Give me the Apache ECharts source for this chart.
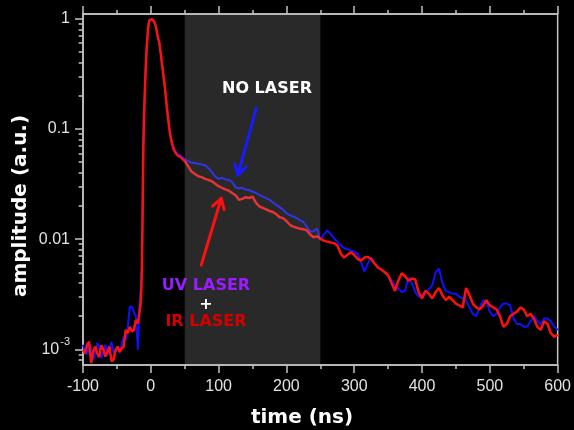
<!DOCTYPE html>
<html><head><meta charset="utf-8">
<script src="https://cdn.jsdelivr.net/npm/echarts@6/dist/echarts.min.js"></script>
<style>html,body{margin:0;padding:0;background:#000}#c{width:574px;height:430px}</style>
</head><body><div id="c"></div>
<script>
// time axis (ns)
const timeNs = [
 -100,-97,-94,-91,-88,-85,-82,-79,-76,-73,-70,-67,-64,-61,-58,-55,-52,-49,-46,-43,-40,-37,-34,-31,-28,-25,-22,-19,-17,-15,
 -14,-13,-12,-11,-10,-9,-8,-7,-6,-5,-4,-3,-2,-1,0,1,2,3,4,5,6,7,8,9,10,11,12,13,14,15,16,17,18,19,20,
 22,24,26,28,30,32,34,36,38,40,43,46,
 50,55,60,65,70,75,80,85,90,95,100,105,110,115,120,125,130,135,140,145,150,155,160,165,170,175,180,185,190,195,
 200,205,210,215,220,225,230,235,240,245,250,255,260,265,270,275,280,285,290,295,300,305,310,315,320,325,330,335,340,345,
 350,355,360,365,370,375,380,385,390,395,400,405,410,415,420,425,430,435,440,445,450,455,460,465,470,475,480,485,490,495,
 500,505,510,515,520,525,530,535,540,545,550,555,560,565,570,575,580,585,590,595,600
];
// NO LASER (blue)
const noLaser = [
 0.0011,0.00095,0.0009,0.00114,0.001,0.0008,0.0009,0.00114,0.00105,0.00083,0.00095,0.0011,0.00088,0.001,0.00117,0.00093,0.001,0.00105,0.00093,0.0011,0.0013,0.0012,0.0016,0.00244,0.00244,0.0022,0.00198,0.00099,0.00227,0.0034,
 0.004,0.006,0.02,0.07,0.13,0.2,0.3,0.42,0.55,0.68,0.82,0.91,0.97,0.995,1.0,1.0,0.99,0.98,0.96,0.94,0.91,0.87,0.83,0.76,0.7,0.66,0.63,0.58,0.52,0.47,0.41,0.37,0.33,0.29,0.265,
 0.2,0.152,0.12,0.095,0.082,0.073,0.067,0.063,0.061,0.059,0.058,0.056,
 0.053,0.051,0.0495,0.049,0.0482,0.0475,0.0468,0.044,0.0405,0.037,0.0352,0.036,0.0348,0.0345,0.033,0.0295,0.0288,0.0292,0.0282,0.0278,0.027,0.0262,0.0252,0.0243,0.0236,0.0228,0.0215,0.0205,0.0195,0.0185,
 0.0172,0.0165,0.016,0.0155,0.0148,0.0143,0.013,0.0117,0.0118,0.0125,0.0098,0.011,0.012,0.0112,0.0102,0.0095,0.0088,0.0083,0.0081,0.0079,0.0077,0.0074,0.0062,0.0051,0.006,0.0068,0.006,0.0056,0.0053,0.005,
 0.0047,0.0042,0.0038,0.0036,0.0033,0.0034,0.0045,0.004,0.0033,0.003,0.0031,0.0033,0.0035,0.0038,0.005,0.0054,0.004,0.0034,0.0033,0.0032,0.0032,0.003,0.0029,0.0028,0.0024,0.0021,0.002,0.0024,0.0028,0.0027,
 0.0022,0.002,0.0021,0.0024,0.0026,0.0026,0.0025,0.0019,0.0017,0.0017,0.0016,0.0016,0.0018,0.002,0.0018,0.0017,0.0019,0.0019,0.0018,0.0016,0.0015
];
// UV LASER + IR LASER (red)
const uvIrLaser = [
 0.00099,0.00092,0.0011,0.00117,0.00075,0.00095,0.00106,0.00092,0.00085,0.00109,0.001,0.00086,0.00095,0.00106,0.00078,0.0008,0.00098,0.00106,0.00095,0.00102,0.00106,0.0015,0.0014,0.0016,0.00145,0.0015,0.00185,0.00172,0.0021,0.0026,
 0.0035,0.006,0.02,0.07,0.13,0.2,0.3,0.42,0.55,0.68,0.82,0.91,0.97,0.995,1.0,1.0,0.99,0.98,0.96,0.94,0.91,0.87,0.83,0.76,0.7,0.66,0.63,0.58,0.52,0.47,0.41,0.37,0.33,0.29,0.265,
 0.2,0.15,0.118,0.093,0.08,0.071,0.065,0.061,0.059,0.057,0.056,0.054,
 0.051,0.046,0.041,0.039,0.0372,0.0365,0.0352,0.0345,0.0335,0.0318,0.0302,0.0292,0.0283,0.0275,0.0262,0.025,0.0228,0.0232,0.024,0.0236,0.0243,0.0214,0.0198,0.0192,0.0186,0.018,0.0176,0.0168,0.0158,0.0155,
 0.0146,0.0135,0.013,0.0127,0.0124,0.0123,0.012,0.011,0.0104,0.0106,0.0101,0.0097,0.0095,0.0093,0.0092,0.0088,0.0074,0.0068,0.0072,0.0076,0.0072,0.0066,0.0064,0.0068,0.0069,0.0066,0.006,0.0055,0.0053,0.005,
 0.0047,0.004,0.0034,0.0042,0.0049,0.0046,0.0042,0.0044,0.0043,0.0033,0.0029,0.0034,0.0032,0.0029,0.0033,0.0036,0.0031,0.0028,0.003,0.0028,0.0026,0.0025,0.0024,0.0036,0.0031,0.0026,0.0024,0.0023,0.0025,0.0028,
 0.0025,0.0024,0.0023,0.002,0.0016,0.0017,0.002,0.0021,0.0022,0.0024,0.0023,0.002,0.0021,0.0019,0.0016,0.0015,0.0018,0.0017,0.0014,0.0013,0.00135
];
const xRange = [-100, 600];
const yRange = [7.21e-4, 1.103];
const yTickValues = [0.001, 0.01, 0.1, 1];
const yTickLabels = ['10{sup|-3}', '0.01', '0.1', '1'];
const yMinorTickValues = [0.0008,0.0009,
  0.002,0.003,0.004,0.005,0.006,0.007,0.008,0.009,
  0.02,0.03,0.04,0.05,0.06,0.07,0.08,0.09,
  0.2,0.3,0.4,0.5,0.6,0.7,0.8,0.9];
const shadedBand = [50, 250];

const AX = '#c4c4c4', LBL = '#e2e2e2';
const L = Math.log10;
const chart = echarts.init(document.getElementById('c'), null, {renderer: 'canvas'});
const majorLog = yTickValues.map(L), minorLog = yMinorTickValues.map(L);
const labelMap = {};
majorLog.forEach((v, i) => { labelMap[Math.round(v)] = yTickLabels[i]; });

const xBase = {
  type: 'value', min: xRange[0], max: xRange[1], interval: 100,
  axisLine: {onZero: false, lineStyle: {color: AX, width: 1.5}},
  axisTick: {length: 8, lineStyle: {color: AX, width: 1.5}},
  minorTick: {show: true, splitNumber: 2, length: 4, lineStyle: {color: AX, width: 1.5}},
  splitLine: {show: false}, minorSplitLine: {show: false}
};
chart.setOption({
  backgroundColor: '#000',
  animation: false,
  grid: {left: 83, right: 16, top: 14, bottom: 65, show: true, borderColor: AX, borderWidth: 1.5},
  xAxis: [
    Object.assign({}, xBase, {position: 'bottom',
      axisLabel: {color: LBL, fontSize: 16, margin: 14, fontFamily: 'Liberation Sans'}}),
    Object.assign({}, xBase, {position: 'top', axisLabel: {show: false}})
  ],
  yAxis: [
    {type: 'value', min: L(yRange[0]), max: L(yRange[1]), position: 'left',
      axisLine: {onZero: false, lineStyle: {color: AX, width: 1.5}},
      axisTick: {customValues: majorLog, length: 8, lineStyle: {color: AX, width: 1.5}},
      axisLabel: {customValues: majorLog, color: LBL, fontSize: 16, margin: 13, fontFamily: 'Liberation Sans',
        lineHeight: 26,
        formatter: v => labelMap[Math.round(v)] || '',
        rich: {sup: {fontSize: 11, color: LBL, verticalAlign: 'top', lineHeight: 12, fontFamily: 'Liberation Sans', padding: [0, 0, 0, 1]}}},
      splitLine: {show: false}},
    {type: 'value', min: L(yRange[0]), max: L(yRange[1]), position: 'right', offset: -475,
      axisLine: {show: false, onZero: false},
      axisTick: {inside: true, customValues: minorLog, length: 4, lineStyle: {color: AX, width: 1.5}},
      axisLabel: {show: false}, splitLine: {show: false}}
  ],
  series: [
    {name: 'NO LASER', type: 'line', showSymbol: false, z: 2,
      data: timeNs.map((t, i) => [t, L(noLaser[i])]),
      lineStyle: {color: '#1010ff', width: 2}},
    {name: 'UV LASER + IR LASER', type: 'line', showSymbol: false, z: 3,
      data: timeNs.map((t, i) => [t, L(uvIrLaser[i])]),
      lineStyle: {color: '#ff1010', width: 2.5}}
  ]
});

function px(t, v) { return chart.convertToPixel({xAxisIndex: 0, yAxisIndex: 0}, [t, L(v)]); }
function arrow(p0, p1, color) {
  const dx = p1[0] - p0[0], dy = p1[1] - p0[1], len = Math.hypot(dx, dy);
  const ux = dx / len, uy = dy / len, nx = -uy, ny = ux, h = 10, w = 6;
  const bx = p1[0] - ux * h, by = p1[1] - uy * h;
  const st = {stroke: color, lineWidth: 3, lineCap: 'round', lineJoin: 'round', fill: null};
  return [
    {type: 'line', z: 10, shape: {x1: p0[0], y1: p0[1], x2: p1[0], y2: p1[1]}, style: st},
    {type: 'polyline', z: 10, shape: {points: [[bx + nx * w, by + ny * w], p1, [bx - nx * w, by - ny * w]]}, style: st}
  ];
}
const bandA = px(shadedBand[0], yRange[1]), bandB = px(shadedBand[1], yRange[0]);
const bold16 = 'bold 16px "DejaVu Sans"';
const txt = (x, y, s, color, font, rot) => ({type: 'text', x, y, z: 10, rotation: rot || 0,
  style: {text: s, fill: color, font, align: 'center', verticalAlign: 'middle'}});
chart.setOption({
  graphic: [].concat(
    [{type: 'rect', z: 5, silent: true,
      shape: {x: bandA[0], y: bandA[1] + 1, width: bandB[0] - bandA[0], height: bandB[1] - bandA[1] - 2},
      style: {fill: 'rgba(160,160,160,0.26)'}}],
    arrow(px(155.5, Math.pow(10, -0.813)), px(128.4, Math.pow(10, -1.418)), '#1a1aff'),
    arrow(px(74.4, Math.pow(10, -2.235)), px(103.9, Math.pow(10, -1.630)), '#ff1010'),
    [
      txt(267, 89, 'NO LASER', '#ffffff', bold16),
      txt(206, 286, 'UV LASER', '#9a1cff', bold16),
      txt(206, 305, '+', '#ffffff', bold16),
      txt(206, 322, 'IR LASER', '#d40000', bold16),
      txt(302, 418, 'time (ns)', '#ffffff', 'bold 20px "DejaVu Sans"'),
      txt(21, 206, 'amplitude (a.u.)', '#ffffff', 'bold 20px "DejaVu Sans"', Math.PI / 2)
    ]
  )
});
</script></body></html>
